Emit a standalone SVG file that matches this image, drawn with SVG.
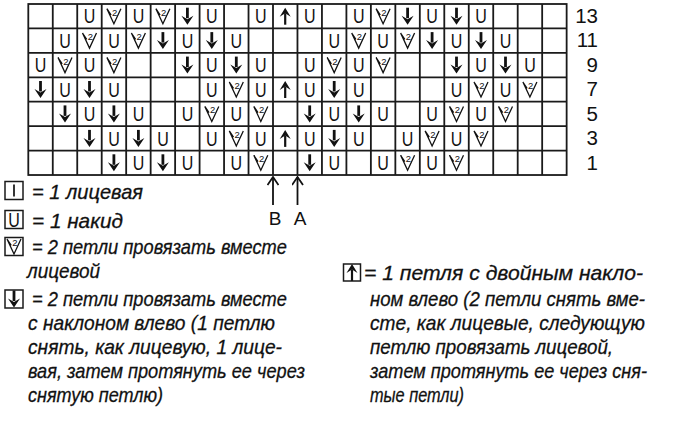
<svg xmlns="http://www.w3.org/2000/svg" xmlns:xlink="http://www.w3.org/1999/xlink" width="690" height="425" viewBox="0 0 690 425">
<style>
.grid{fill:none;stroke:#1a1a1a;stroke-width:1.8}
.sym{font-family:"Liberation Sans",Arial,sans-serif;font-size:20px;fill:#111}
.two{font-family:"Liberation Sans",Arial,sans-serif;font-size:9.5px;fill:#111}
.num{font-family:"Liberation Sans",Arial,sans-serif;font-size:20.5px;fill:#111;text-anchor:end}
.lbl{font-family:"Liberation Sans",Arial,sans-serif;font-size:19px;fill:#111;text-anchor:middle}
.leg{font-family:"Liberation Sans",Arial,sans-serif;font-size:21px;font-style:italic;fill:#111;stroke:#111;stroke-width:0.3}
.box{fill:#fff;stroke:#1a1a1a;stroke-width:1.5}
.ln{fill:none;stroke:#111;stroke-width:1.8}
</style>
<defs>
<text id="s-u" class="sym" x="0" y="7.2" text-anchor="middle" transform="scale(0.8,1)">U</text>
<g id="s-d"><path d="M0,-8.5V2" stroke="#111" stroke-width="2.8" fill="none"/><path d="M-6,-0.5 L0,8.5 L6,-0.5 L0,3 Z" fill="#111"/></g>
<g id="s-a"><path d="M0,8.5V-3" stroke="#111" stroke-width="2.2" fill="none"/><path d="M-5.5,0.5 L0,-8.5 L5.5,0.5 L0,-3 Z" fill="#111"/></g>
<g id="s-v"><path d="M-7,-7.5 L0,7.5 L7,-7.5 M-7,-7.5 L-2.8,-1.2" fill="none" stroke="#111" stroke-width="1.3"/><text class="two" x="0.8" y="-0.6" text-anchor="middle">2</text></g>
<marker id="head" viewBox="0 0 10 12" refX="9" refY="6" markerWidth="10" markerHeight="12" markerUnits="userSpaceOnUse" orient="auto">
<path d="M1,0.5 L9,6 L1,11.5" fill="none" stroke="#111" stroke-width="1.8"/>
</marker>
</defs>

<g id="grid">
<rect class="grid" x="28.3" y="4" width="538.34" height="171.01"/>
<path class="grid" d="M52.77,4V175M77.24,4V175M101.71,4V175M126.18,4V175M150.65,4V175M175.12,4V175M199.59,4V175M224.06,4V175M248.53,4V175M273,4V175M297.47,4V175M321.94,4V175M346.41,4V175M370.88,4V175M395.35,4V175M419.82,4V175M444.29,4V175M468.76,4V175M493.23,4V175M517.7,4V175M542.17,4V175M28.3,28.43H566.64M28.3,52.86H566.64M28.3,77.29H566.64M28.3,101.72H566.64M28.3,126.15H566.64M28.3,150.58H566.64"/>
</g>

<g id="row-13">
<use href="#s-u" x="89.5" y="16.2"/><use href="#s-v" x="113.9" y="16.2"/><use href="#s-u" x="138.4" y="16.2"/><use href="#s-v" x="162.9" y="16.2"/><use href="#s-d" x="187.4" y="16.2"/><use href="#s-u" x="211.8" y="16.2"/><use href="#s-u" x="260.8" y="16.2"/><use href="#s-a" x="285.2" y="16.2"/><use href="#s-u" x="309.7" y="16.2"/><use href="#s-u" x="358.7" y="16.2"/><use href="#s-v" x="383.1" y="16.2"/><use href="#s-d" x="407.6" y="16.2"/><use href="#s-u" x="432.1" y="16.2"/><use href="#s-d" x="456.5" y="16.2"/><use href="#s-u" x="481" y="16.2"/>
<text class="num" x="598" y="23">13</text>
</g>
<g id="row-11">
<use href="#s-u" x="65" y="40.6"/><use href="#s-v" x="89.5" y="40.6"/><use href="#s-u" x="113.9" y="40.6"/><use href="#s-v" x="138.4" y="40.6"/><use href="#s-d" x="162.9" y="40.6"/><use href="#s-u" x="187.4" y="40.6"/><use href="#s-d" x="211.8" y="40.6"/><use href="#s-u" x="236.3" y="40.6"/><use href="#s-u" x="334.2" y="40.6"/><use href="#s-v" x="358.7" y="40.6"/><use href="#s-u" x="383.1" y="40.6"/><use href="#s-v" x="407.6" y="40.6"/><use href="#s-d" x="432.1" y="40.6"/><use href="#s-u" x="456.5" y="40.6"/><use href="#s-d" x="481" y="40.6"/><use href="#s-u" x="505.5" y="40.6"/>
<text class="num" x="598" y="47.4">11</text>
</g>
<g id="row-9">
<use href="#s-u" x="40.5" y="65.1"/><use href="#s-v" x="65" y="65.1"/><use href="#s-u" x="89.5" y="65.1"/><use href="#s-v" x="113.9" y="65.1"/><use href="#s-d" x="187.4" y="65.1"/><use href="#s-u" x="211.8" y="65.1"/><use href="#s-d" x="236.3" y="65.1"/><use href="#s-u" x="260.8" y="65.1"/><use href="#s-u" x="309.7" y="65.1"/><use href="#s-v" x="334.2" y="65.1"/><use href="#s-u" x="358.7" y="65.1"/><use href="#s-v" x="383.1" y="65.1"/><use href="#s-d" x="456.5" y="65.1"/><use href="#s-u" x="481" y="65.1"/><use href="#s-d" x="505.5" y="65.1"/><use href="#s-u" x="529.9" y="65.1"/>
<text class="num" x="598" y="71.9">9</text>
</g>
<g id="row-7">
<use href="#s-d" x="40.5" y="89.5"/><use href="#s-u" x="65" y="89.5"/><use href="#s-d" x="89.5" y="89.5"/><use href="#s-u" x="113.9" y="89.5"/><use href="#s-u" x="211.8" y="89.5"/><use href="#s-v" x="236.3" y="89.5"/><use href="#s-u" x="260.8" y="89.5"/><use href="#s-a" x="285.2" y="89.5"/><use href="#s-u" x="309.7" y="89.5"/><use href="#s-d" x="334.2" y="89.5"/><use href="#s-u" x="358.7" y="89.5"/><use href="#s-u" x="456.5" y="89.5"/><use href="#s-v" x="481" y="89.5"/><use href="#s-u" x="505.5" y="89.5"/><use href="#s-v" x="529.9" y="89.5"/>
<text class="num" x="598" y="96.3">7</text>
</g>
<g id="row-5">
<use href="#s-d" x="65" y="113.9"/><use href="#s-u" x="89.5" y="113.9"/><use href="#s-d" x="113.9" y="113.9"/><use href="#s-u" x="138.4" y="113.9"/><use href="#s-u" x="187.4" y="113.9"/><use href="#s-v" x="211.8" y="113.9"/><use href="#s-u" x="236.3" y="113.9"/><use href="#s-v" x="260.8" y="113.9"/><use href="#s-d" x="309.7" y="113.9"/><use href="#s-u" x="334.2" y="113.9"/><use href="#s-d" x="358.7" y="113.9"/><use href="#s-u" x="383.1" y="113.9"/><use href="#s-u" x="432.1" y="113.9"/><use href="#s-v" x="456.5" y="113.9"/><use href="#s-u" x="481" y="113.9"/><use href="#s-v" x="505.5" y="113.9"/>
<text class="num" x="598" y="120.7">5</text>
</g>
<g id="row-3">
<use href="#s-d" x="89.5" y="138.4"/><use href="#s-u" x="113.9" y="138.4"/><use href="#s-d" x="138.4" y="138.4"/><use href="#s-u" x="162.9" y="138.4"/><use href="#s-u" x="211.8" y="138.4"/><use href="#s-v" x="236.3" y="138.4"/><use href="#s-u" x="260.8" y="138.4"/><use href="#s-a" x="285.2" y="138.4"/><use href="#s-u" x="309.7" y="138.4"/><use href="#s-d" x="334.2" y="138.4"/><use href="#s-u" x="358.7" y="138.4"/><use href="#s-u" x="407.6" y="138.4"/><use href="#s-v" x="432.1" y="138.4"/><use href="#s-u" x="456.5" y="138.4"/><use href="#s-v" x="481" y="138.4"/>
<text class="num" x="598" y="145.2">3</text>
</g>
<g id="row-1">
<use href="#s-d" x="113.9" y="162.8"/><use href="#s-u" x="138.4" y="162.8"/><use href="#s-d" x="162.9" y="162.8"/><use href="#s-u" x="187.4" y="162.8"/><use href="#s-u" x="236.3" y="162.8"/><use href="#s-v" x="260.8" y="162.8"/><use href="#s-d" x="309.7" y="162.8"/><use href="#s-u" x="334.2" y="162.8"/><use href="#s-u" x="383.1" y="162.8"/><use href="#s-v" x="407.6" y="162.8"/><use href="#s-u" x="432.1" y="162.8"/><use href="#s-v" x="456.5" y="162.8"/>
<text class="num" x="598" y="169.6">1</text>
</g>

<g id="connectors">
<path class="ln" d="M273,205V177" marker-end="url(#head)"/>
<path class="ln" d="M297.5,205V177" marker-end="url(#head)"/>
</g>
<g id="label-B"><text class="lbl" x="275" y="225">B</text></g>
<g id="label-A"><text class="lbl" x="300" y="225">A</text></g>

<g id="legend-knit">
<rect class="box" x="5" y="181.5" width="18" height="18"/>
<path d="M14,184.5V196.5" stroke="#111" stroke-width="1.7"/>
<text class="leg" x="32" y="199" textLength="111" lengthAdjust="spacingAndGlyphs">= 1 лицевая</text>
</g>
<g id="legend-yo">
<rect class="box" x="5" y="210.5" width="18" height="18"/>
<use href="#s-u" x="14" y="219.5"/>
<text class="leg" x="32" y="227.5" textLength="91" lengthAdjust="spacingAndGlyphs">= 1 накид</text>
</g>
<g id="legend-k2tog">
<rect class="box" x="5" y="237.5" width="18" height="18"/>
<use href="#s-v" x="14" y="246.5"/>
<text class="leg" x="32" y="254" textLength="255" lengthAdjust="spacingAndGlyphs">= 2 петли провязать вместе</text>
<text class="leg" x="27" y="278" textLength="73" lengthAdjust="spacingAndGlyphs">лицевой</text>
</g>
<g id="legend-ssk">
<rect class="box" x="5" y="290" width="18" height="18"/>
<use href="#s-d" x="14" y="299"/>
<text class="leg" x="32" y="306" textLength="255" lengthAdjust="spacingAndGlyphs">= 2 петли провязать вместе</text>
<text class="leg" x="28" y="330" textLength="247" lengthAdjust="spacingAndGlyphs">с наклоном влево (1 петлю</text>
<text class="leg" x="28" y="354" textLength="254" lengthAdjust="spacingAndGlyphs">снять, как лицевую, 1 лице-</text>
<text class="leg" x="28" y="378" textLength="277" lengthAdjust="spacingAndGlyphs">вая, затем протянуть ее через</text>
<text class="leg" x="28" y="402" textLength="135" lengthAdjust="spacingAndGlyphs">снятую петлю)</text>
</g>
<g id="legend-cdd">
<rect class="box" x="343.5" y="264" width="17" height="17"/>
<use href="#s-a" x="352" y="272.5"/>
<text class="leg" x="364" y="280" textLength="279" lengthAdjust="spacingAndGlyphs">= 1 петля с двойным накло-</text>
<text class="leg" x="370" y="306" textLength="275" lengthAdjust="spacingAndGlyphs">ном влево (2 петли снять вме-</text>
<text class="leg" x="370" y="330" textLength="275" lengthAdjust="spacingAndGlyphs">сте, как лицевые, следующую</text>
<text class="leg" x="370" y="354" textLength="243" lengthAdjust="spacingAndGlyphs">петлю провязать лицевой,</text>
<text class="leg" x="370" y="378" textLength="277" lengthAdjust="spacingAndGlyphs">затем протянуть ее через сня-</text>
<text class="leg" x="370" y="402" textLength="94" lengthAdjust="spacingAndGlyphs">тые петли)</text>
</g>
</svg>
